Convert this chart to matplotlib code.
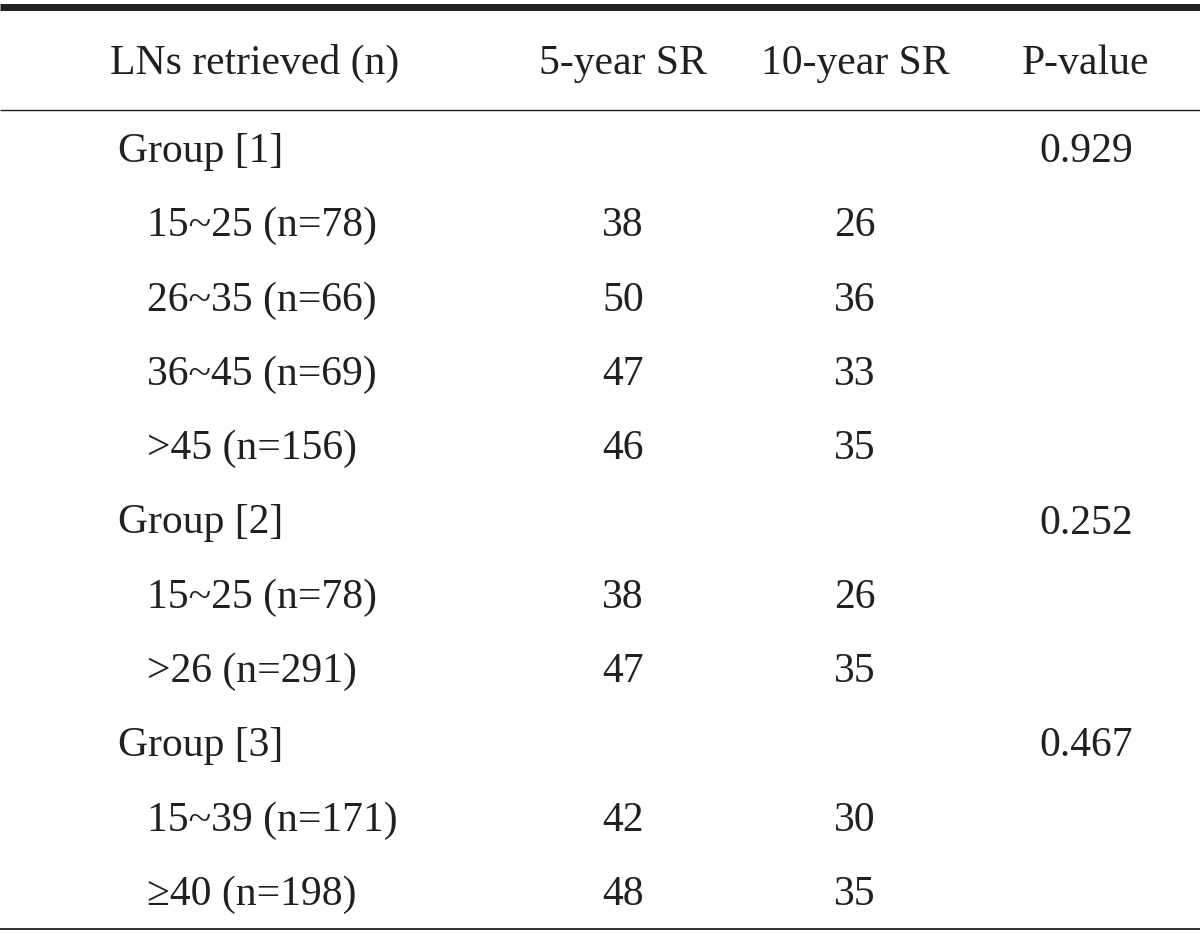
import matplotlib.pyplot as plt

# Tabla: supervivencia segun numero de ganglios recuperados
header = ["LNs retrieved (n)", "5-year SR", "10-year SR", "P-value"]
groups = ["Group [1]", "Group [2]", "Group [3]"]
p_values = ["0.929", "0.252", "0.467"]
sub_labels = [
    ["15~25 (n=78)", "26~35 (n=66)", "36~45 (n=69)", ">45 (n=156)"],
    ["15~25 (n=78)", ">26 (n=291)"],
    ["15~39 (n=171)", "\u226540 (n=198)"],
]
sr5 = [[38, 50, 47, 46], [38, 47], [42, 48]]
sr10 = [[26, 36, 33, 35], [26, 35], [30, 35]]

W, H = 1200, 934
fig = plt.figure(figsize=(W / 100, H / 100), dpi=100)
ax = fig.add_axes([0, 0, 1, 1])
ax.set_xlim(0, W)
ax.set_ylim(H, 0)
ax.axis("off")

font = dict(family="Liberation Serif", fontsize=30, color="#231f20")
col_x = [255, 623, 855, 1086]
x_group, x_sub = 118, 147
row_h = 74.3

# lineas horizontales
ax.plot([0, W], [6.5, 6.5], color="#231f20", lw=5.0, solid_capstyle="butt")
ax.plot([0, W], [110, 110], color="#231f20", lw=1.0, solid_capstyle="butt")
ax.plot([0, W], [929, 929], color="#231f20", lw=1.3, solid_capstyle="butt")

# encabezado
for x, txt in zip(col_x, header):
    ax.text(x, 74, txt, ha="center", va="baseline", **font)

y = 162
for g, p, labs, a, b in zip(groups, p_values, sub_labels, sr5, sr10):
    ax.text(x_group, y, g, ha="left", va="baseline", **font)
    ax.text(col_x[3], y, p, ha="center", va="baseline", **font)
    y += row_h
    for lab, v5, v10 in zip(labs, a, b):
        ax.text(x_sub, y, lab, ha="left", va="baseline", **font)
        ax.text(col_x[1], y, str(v5), ha="center", va="baseline", **font)
        ax.text(col_x[2], y, str(v10), ha="center", va="baseline", **font)
        y += row_h

fig.savefig("out.png", dpi=100)
